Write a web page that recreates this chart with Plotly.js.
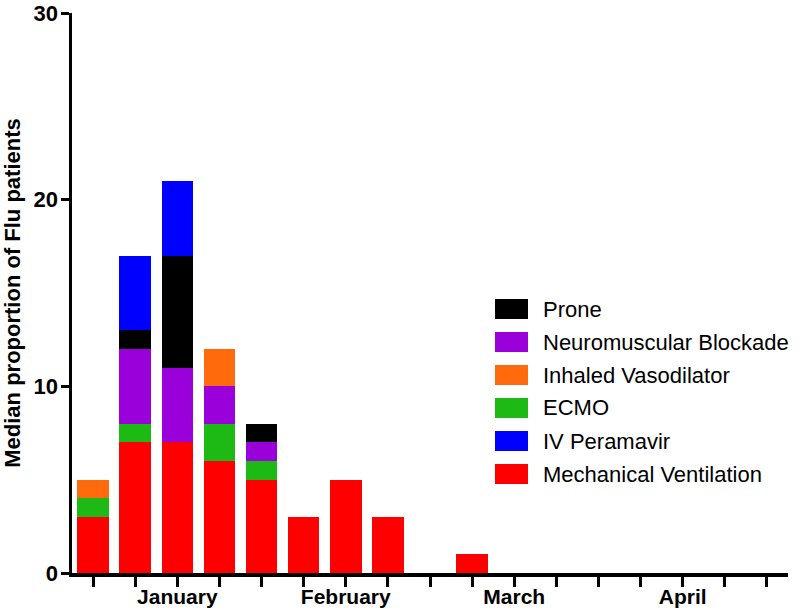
<!DOCTYPE html>
<html>
<head>
<meta charset="utf-8">
<script src="https://cdn.plot.ly/plotly-3.0.1.min.js"></script>
<style>html,body{margin:0;padding:0;background:#fff;}#chart{width:800px;height:611px;}</style>
</head>
<body>
<div id="chart"></div>
<script>
// Bar positions (weekly slots) and month tick labels
const positions = [0, 1, 2, 3, 4, 5, 6, 7, 8, 9, 10, 11, 12, 13, 14, 15, 16];
const tickLabels = ["", "", "January", "", "", "", "February", "", "", "", "March", "", "", "", "April", "", ""];
const yTicks = [0, 10, 20, 30];

// Series values (stack order bottom to top)
const mechanicalVentilation = [3, 7, 7, 6, 5, 3, 5, 3, 0, 1, 0, 0, 0, 0, 0, 0, 0];
const ecmo                  = [1, 1, 0, 2, 1, 0, 0, 0, 0, 0, 0, 0, 0, 0, 0, 0, 0];
const neuromuscular         = [0, 4, 4, 2, 1, 0, 0, 0, 0, 0, 0, 0, 0, 0, 0, 0, 0];
const inhaledVasodilator    = [1, 0, 0, 2, 0, 0, 0, 0, 0, 0, 0, 0, 0, 0, 0, 0, 0];
const prone                 = [0, 1, 6, 0, 1, 0, 0, 0, 0, 0, 0, 0, 0, 0, 0, 0, 0];
const ivPeramavir           = [0, 4, 4, 0, 0, 0, 0, 0, 0, 0, 0, 0, 0, 0, 0, 0, 0];

const seriesNames = ["Mechanical Ventilation", "ECMO", "Neuromuscular Blockade", "Inhaled Vasodilator", "Prone", "IV Peramavir"];
const seriesValues = [mechanicalVentilation, ecmo, neuromuscular, inhaledVasodilator, prone, ivPeramavir];
const seriesColors = ["#FF0000", "#1DB914", "#9A00DA", "#FF6A0C", "#000000", "#0000FF"];
// Legend order as shown (top to bottom)
const legendOrder = ["Prone", "Neuromuscular Blockade", "Inhaled Vasodilator", "ECMO", "IV Peramavir", "Mechanical Ventilation"];

const FONT = "Liberation Sans, Arial, Helvetica, sans-serif";

const traces = seriesNames.map((name, i) => ({
  type: "bar",
  name: name,
  x: positions,
  y: seriesValues[i],
  width: 0.75,
  marker: {color: seriesColors[i], line: {width: 0}},
  showlegend: false,
  hoverinfo: "name+y"
}));

// Custom legend with large swatches
const mT = 13, mB = 38, mL = 72, mR = 12;
const plotW = 800 - mL - mR, plotH = 611 - mT - mB;
const shapes = [];
const annotations = [];
const legTop = (573 - 309) / plotH; // paper coords of first entry centre
const legStep = 33 / plotH;
legendOrder.forEach((name, k) => {
  const idx = seriesNames.indexOf(name);
  const yc = legTop - k * legStep;
  shapes.push({
    type: "rect", xref: "paper", yref: "paper",
    x0: (495 - mL) / plotW, x1: (528 - mL) / plotW,
    y0: yc - 10 / plotH, y1: yc + 10 / plotH,
    fillcolor: seriesColors[idx], line: {width: 0}
  });
  annotations.push({
    xref: "paper", yref: "paper", x: (541 - mL) / plotW, y: yc,
    xanchor: "left", yanchor: "middle", showarrow: false,
    text: name, font: {family: FONT, size: 22, color: "#000"}
  });
});

const layout = {
  width: 800, height: 611,
  margin: {l: mL, r: mR, t: mT, b: mB},
  paper_bgcolor: "#fff", plot_bgcolor: "#fff",
  barmode: "stack",
  showlegend: false,
  font: {family: FONT, color: "#000"},
  xaxis: {
    range: [-0.5, 16.5],
    tickmode: "array", tickvals: positions, ticktext: tickLabels,
    ticks: "outside", ticklen: 10, tickwidth: 3, tickcolor: "#000",
    showline: true, linewidth: 3.5, linecolor: "#000",
    showgrid: false, zeroline: false,
    tickfont: {family: FONT, size: 21, color: "#000", weight: "bold"},
    ticklabelstandoff: -8,
    ticklabeloverflow: "allow",
    automargin: false
  },
  yaxis: {
    range: [0, 30],
    tickmode: "array", tickvals: yTicks, ticktext: yTicks.map(String),
    ticks: "outside", ticklen: 8, tickwidth: 3, tickcolor: "#000",
    showline: true, linewidth: 3.5, linecolor: "#000",
    showgrid: false, zeroline: false,
    tickfont: {family: FONT, size: 22, color: "#000", weight: "bold"},
    ticklabelstandoff: -2,
    ticklabeloverflow: "allow",
    automargin: false,
    title: {text: "Median proportion of Flu patients", standoff: 8,
            font: {family: FONT, size: 22, color: "#000", weight: "bold"}}
  },
  shapes: shapes,
  annotations: annotations
};

Plotly.newPlot("chart", traces, layout, {displayModeBar: false, staticPlot: true});
</script>
</body>
</html>
